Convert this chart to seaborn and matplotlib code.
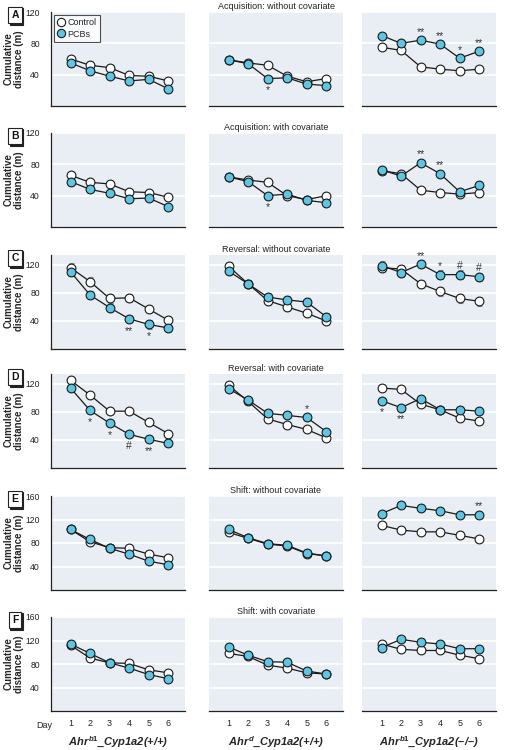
import matplotlib
matplotlib.use("Agg")
import matplotlib.pyplot as plt
from matplotlib.lines import Line2D
import pandas as pd
import seaborn as sns

sns.set_style("white")
plt.rcParams["font.family"] = ["Liberation Sans", "DejaVu Sans"]
plt.rcParams["mathtext.fontset"] = "custom"
plt.rcParams["mathtext.it"] = "Liberation Sans:italic:bold"
plt.rcParams["mathtext.rm"] = "Liberation Sans:bold"

days = [1, 2, 3, 4, 5, 6]
panel_letters = ["A", "B", "C", "D", "E", "F"]
panel_titles = ["Acquisition: without covariate", "Acquisition: with covariate",
                "Reversal: without covariate", "Reversal: with covariate",
                "Shift: without covariate", "Shift: with covariate"]
strain_labels = [r"$Ahr^{b1}$_Cyp1a2(+/+)", r"$Ahr^{d}$_Cyp1a2(+/+)", r"$Ahr^{b1}$_Cyp1a2(–/–)"]
y_top = [120, 120, 134, 134, 160, 160]
y_ticks = [[40, 80, 120], [40, 80, 120], [40, 80, 120], [40, 80, 120],
           [40, 80, 120, 160], [40, 80, 120, 160]]

# each row: [left column, middle column, right column]
control_A = [[60, 52, 49, 39, 38, 32], [59, 55, 52, 38, 31, 35], [75, 71, 50, 47, 45, 47]]
pcb_A = [[55, 45, 38, 32, 34, 22], [59, 54, 35, 36, 28, 26], [90, 80, 84, 79, 61, 70]]
control_B = [[66, 57, 55, 45, 44, 38], [64, 60, 57, 40, 35, 40], [72, 68, 47, 44, 42, 44]]
pcb_B = [[58, 48, 43, 36, 37, 26], [64, 58, 40, 42, 34, 31], [73, 65, 82, 68, 45, 53]]
control_C = [[116, 96, 72, 73, 57, 41], [118, 93, 69, 60, 51, 40], [116, 114, 93, 82, 72, 68]]
pcb_C = [[110, 77, 59, 43, 35, 30], [111, 93, 74, 70, 67, 46], [119, 109, 121, 106, 106, 103]]
control_D = [[125, 104, 81, 81, 65, 49], [118, 95, 70, 62, 55, 43], [114, 112, 91, 83, 71, 67]]
pcb_D = [[114, 82, 64, 48, 41, 35], [113, 97, 78, 75, 72, 52], [96, 86, 99, 83, 83, 81]]
control_E = [[103, 82, 72, 71, 61, 55], [98, 88, 78, 75, 62, 58], [110, 102, 99, 99, 93, 87]]
pcb_E = [[103, 86, 71, 61, 49, 43], [103, 89, 79, 76, 63, 58], [130, 144, 139, 135, 128, 128]]
control_F = [[112, 90, 82, 81, 70, 65], [98, 93, 78, 73, 65, 63], [114, 105, 103, 103, 95, 89]]
pcb_F = [[114, 98, 82, 73, 62, 55], [109, 95, 84, 83, 68, 63], [108, 122, 117, 114, 106, 106]]
sem_row = [3, 3, 6, 4, 5, 4]

controls = [control_A, control_B, control_C, control_D, control_E, control_F]
pcbs = [pcb_A, pcb_B, pcb_C, pcb_D, pcb_E, pcb_F]

# (row, column, day, symbol, +1 above / -1 below the PCB point)
stars = [("A", 1, 3, "*", -1), ("A", 2, 3, "**", 1), ("A", 2, 4, "**", 1), ("A", 2, 5, "*", 1),
         ("A", 2, 6, "**", 1), ("B", 1, 3, "*", -1), ("B", 2, 3, "**", 1), ("B", 2, 4, "**", 1),
         ("C", 0, 4, "**", -1), ("C", 0, 5, "*", -1), ("C", 2, 3, "**", 1), ("C", 2, 4, "*", 1),
         ("C", 2, 5, "#", 1), ("C", 2, 6, "#", 1), ("D", 0, 2, "*", -1), ("D", 0, 3, "*", -1),
         ("D", 0, 4, "#", -1), ("D", 0, 5, "**", -1), ("D", 1, 5, "*", 1), ("D", 2, 1, "*", -1),
         ("D", 2, 2, "**", -1), ("E", 2, 6, "**", 1)]

recs = []
for r, letter in enumerate(panel_letters):
    for c in range(3):
        for group, vals in [("Control", controls[r][c]), ("PCBs", pcbs[r][c])]:
            for d, v in zip(days, vals):
                recs.append(dict(row=letter, col=c, group=group, day=d, dist=v, sem=sem_row[r]))
df = pd.DataFrame(recs)

face = {"Control": "white", "PCBs": "#5cc6e4"}
bg = "#e8eef3"
W, H = 506, 750
col_x = [51, 209, 362]
row_top = [12, 133, 255, 374, 496, 617]
aw, ah = 134, 94

fig = plt.figure(figsize=(5.06, 7.5), dpi=100)
for r, letter in enumerate(panel_letters):
    for c in range(3):
        ax = fig.add_axes([col_x[c] / W, 1 - (row_top[r] + ah) / H, aw / W, ah / H])
        ax.set_facecolor(bg)
        ax.set_axisbelow(True)
        ax.grid(axis="y", color="white", lw=1.2)
        for g in ["Control", "PCBs"]:
            sub = df[(df.row == letter) & (df.col == c) & (df.group == g)]
            ax.errorbar(sub.day, sub.dist, yerr=sub["sem"], fmt="none", ecolor="#8a8a8a",
                        elinewidth=0.8, capsize=1.8, capthick=0.8, zorder=2)
            sns.lineplot(data=sub, x="day", y="dist", color="#1a1a1a", lw=0.9,
                         estimator=None, sort=False, ax=ax, legend=False, zorder=3)
            sns.scatterplot(data=sub, x="day", y="dist", color=face[g], edgecolor="#1a1a1a",
                            linewidth=0.8, s=40, ax=ax, legend=False, zorder=4)
        for (sl, sc, sd, sym, pos) in stars:
            if sl == letter and sc == c:
                yv = df[(df.row == letter) & (df.col == c) & (df.group == "PCBs") & (df.day == sd)].dist.iloc[0]
                off = 8.5 if pos < 0 else 6
                ax.annotate(sym, (sd, yv), xytext=(0, off * pos), textcoords="offset points",
                            ha="center", va="center", fontsize=7.5, color="#333333")
        ax.set_xlim(0, 6.86)
        ax.set_ylim(0, y_top[r])
        ax.set_xlabel("")
        ax.set_ylabel("")
        ax.set_yticks(y_ticks[r])
        ax.set_xticks([0] + days)
        for s in ["top", "right"]:
            ax.spines[s].set_visible(False)
        ax.spines["bottom"].set_color("#222222")
        ax.spines["bottom"].set_linewidth(0.9)
        if c == 0:
            ax.spines["left"].set_color("#222222")
            ax.spines["left"].set_linewidth(0.9)
            ax.tick_params(axis="y", length=0, labelsize=6.2, pad=8, labelcolor="#222222")
        else:
            ax.spines["left"].set_visible(False)
            ax.tick_params(axis="y", length=0, labelleft=False)
        if r == 5:
            ax.set_xticklabels([""] + [str(d) for d in days])
            ax.tick_params(axis="x", length=0, labelsize=6.5, pad=6, labelcolor="#222222")
            if c == 0:
                ax.annotate("Day", (0, 0), xycoords=("data", "axes fraction"), xytext=(1, -10.5),
                            textcoords="offset points", ha="right", va="center", fontsize=6.5,
                            color="#222222")
            ax.annotate(strain_labels[c], (0.5, 0), xycoords="axes fraction", xytext=(0, -22.5),
                        textcoords="offset points", ha="center", va="center", fontsize=8,
                        fontweight="bold", fontstyle="italic")
        else:
            ax.tick_params(axis="x", length=4, width=0.9, color="#222222", direction="out",
                           labelbottom=False)
        if c == 1:
            ax.set_title(panel_titles[r], fontsize=6.5, pad=2.5, color="#222222")
        if r == 0 and c == 0:
            handles = [Line2D([], [], marker="o", ls="none", mfc=face[g], mec="#1a1a1a",
                              mew=0.8, ms=6, label=g) for g in ["Control", "PCBs"]]
            leg = ax.legend(handles=handles, loc="upper left", fontsize=6.5, frameon=True,
                            fancybox=False, edgecolor="#222222", handletextpad=0.2,
                            borderpad=0.35, labelspacing=0.3, handlelength=1.0,
                            borderaxespad=0.3)
            leg.get_frame().set_linewidth(0.8)
    # panel letter box with shadow
    cy = 1 - (row_top[r] + 3) / H
    fig.text(15 / W + 1.5 / W, cy - 1.5 / H, letter, ha="center", va="center", fontsize=7.5,
             fontweight="bold", color="#222222",
             bbox=dict(boxstyle="square,pad=0.3", fc="#222222", ec="#222222", lw=0.8))
    fig.text(15 / W, cy, letter, ha="center", va="center", fontsize=7.5, fontweight="bold",
             color="#111111", bbox=dict(boxstyle="square,pad=0.3", fc="white", ec="#222222", lw=0.8))
    fig.text(14 / W, 1 - (row_top[r] + ah / 2) / H, "Cumulative\ndistance (m)", rotation=90,
             ha="center", va="center", fontsize=7, fontweight="bold", linespacing=1.05,
             multialignment="center")

fig.savefig("out.png", dpi=100)
